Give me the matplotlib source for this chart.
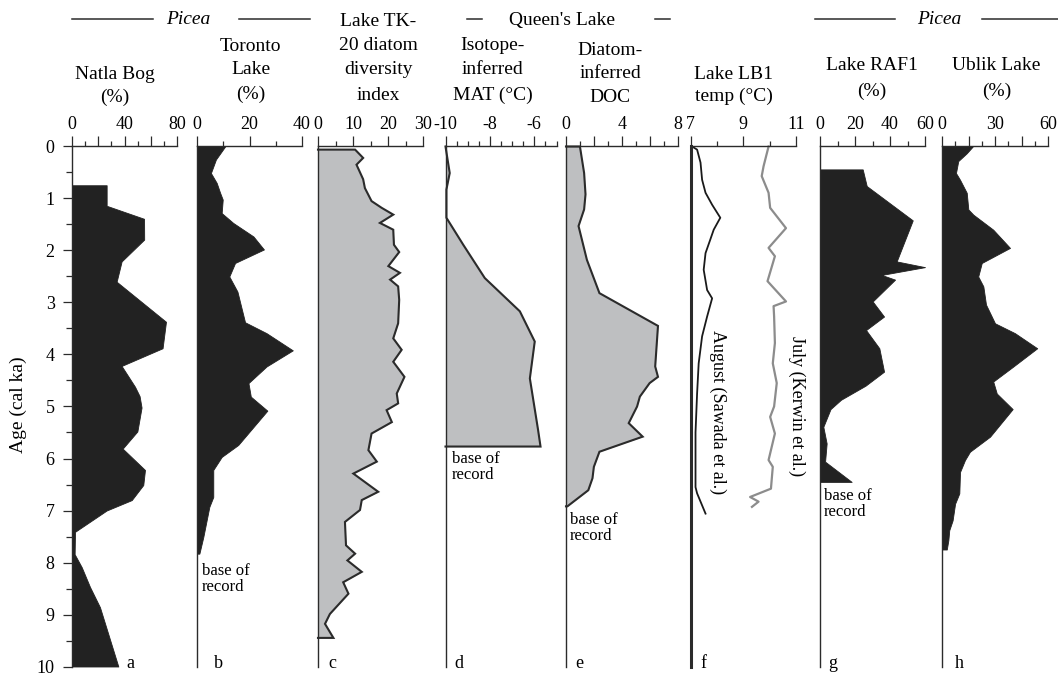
import matplotlib.pyplot as plt
from matplotlib.lines import Line2D
import numpy as np

plt.rcParams["font.family"] = "serif"
plt.rcParams["font.serif"] = ["Liberation Serif", "DejaVu Serif"]
plt.rcParams["axes.unicode_minus"] = False

# ---- records (age in cal ka BP, value on each panel's own scale) ----
natla_age = [0.745, 1.14, 1.39, 1.79, 2.21, 2.60, 3.37, 3.88, 4.22, 4.62, 4.80, 5.02,
             5.48, 5.81, 6.22, 6.51, 6.80, 7.00, 7.41, 7.84, 8.09, 8.47, 8.86, 10.0]
natla_val = [26.4, 26.4, 54.9, 55.0, 37.8, 34.0, 71.6, 69.0, 37.8, 48.0, 51.5, 53.0,
             49.8, 38.6, 55.6, 54.3, 45.5, 26.4, 2.3, 2.0, 7.4, 13.7, 21.3, 35.3]

toronto_age = [0.0, 0.25, 0.51, 0.70, 0.89, 1.02, 1.28, 1.47, 1.73, 1.98, 2.24, 2.50, 2.79,
               3.38, 3.59, 3.92, 4.23, 4.55, 4.81, 5.08, 5.74, 5.97, 6.22, 6.74, 6.93, 7.51, 7.83]
toronto_val = [10.7, 7.2, 5.3, 7.5, 8.8, 9.8, 9.4, 13.8, 21.5, 25.5, 14.5, 12.3, 15.4,
               18.3, 26.5, 36.5, 26.5, 19.6, 20.5, 26.8, 15.7, 9.4, 6.2, 6.2, 4.7, 2.4, 0.9]

tk20_age = [0.06, 0.22, 0.35, 0.63, 0.80, 1.05, 1.18, 1.31, 1.47, 1.60, 1.89, 2.03, 2.30,
            2.43, 2.56, 2.69, 2.95, 3.40, 3.69, 3.91, 4.14, 4.43, 4.75, 4.94, 5.07, 5.30,
            5.52, 5.84, 6.06, 6.29, 6.64, 6.80, 6.99, 7.22, 7.67, 7.83, 7.96, 8.18, 8.38,
            8.60, 8.99, 9.18, 9.45]
tk20_val = [10.6, 12.9, 11.0, 12.9, 13.4, 15.3, 18.2, 21.5, 17.7, 21.5, 21.7, 23.2, 20.1,
            23.4, 20.6, 22.9, 23.2, 22.9, 21.5, 23.9, 21.5, 24.7, 22.5, 22.9, 19.6, 21.1,
            15.3, 14.4, 16.8, 10.1, 17.2, 12.5, 12.0, 7.7, 8.0, 10.6, 8.4, 12.5, 7.2,
            8.7, 3.4, 2.0, 4.4]

mat_age = [0.0, 0.51, 0.83, 1.37, 1.89, 2.53, 3.17, 3.75, 4.46, 5.45, 5.77]
mat_val = [-10.0, -9.81, -9.96, -9.96, -9.2, -8.23, -6.65, -5.98, -6.2, -5.83, -5.72]

doc_age = [0.0, 0.51, 0.92, 1.21, 1.53, 2.18, 2.82, 3.45, 4.23, 4.43, 4.55, 4.81, 5.00,
           5.32, 5.58, 5.87, 6.16, 6.38, 6.61, 6.92]
doc_val = [1.0, 1.3, 1.4, 1.3, 0.9, 1.5, 2.4, 6.6, 6.4, 6.6, 6.0, 5.3, 5.1, 4.5, 5.5,
           2.4, 2.0, 1.9, 1.6, 0.1]

aug_age = [0.0, 0.06, 0.31, 0.64, 0.89, 1.12, 1.37, 1.60, 1.79, 2.05, 2.37, 2.76, 2.92,
           3.27, 3.65, 4.17, 4.75, 5.50, 6.55, 6.67, 7.06]
aug_val = [7.06, 7.25, 7.38, 7.44, 7.57, 7.82, 8.13, 7.88, 7.75, 7.57, 7.50, 7.63, 7.82,
           7.63, 7.44, 7.31, 7.25, 7.19, 7.19, 7.25, 7.57]

jul_age = [0.0, 0.38, 0.57, 0.89, 1.18, 1.57, 1.95, 2.11, 2.59, 2.98, 3.07, 3.27, 3.78,
           4.17, 4.55, 5.00, 5.20, 5.52, 6.03, 6.16, 6.58, 6.74, 6.83, 6.93]
jul_val = [9.96, 9.77, 9.70, 9.96, 10.02, 10.62, 9.96, 10.20, 9.92, 10.62, 10.15, 10.17,
           10.20, 10.12, 10.27, 10.17, 10.02, 10.20, 9.96, 10.12, 10.05, 9.26, 9.58, 9.33]

raf1_age = [0.44, 0.76, 1.42, 2.21, 2.32, 2.47, 2.56, 2.98, 3.27, 3.53, 3.88, 4.33, 4.60,
            4.87, 5.05, 5.39, 5.71, 6.06, 6.45]
raf1_val = [24.4, 26.7, 53.0, 43.8, 60.0, 35.2, 42.9, 30.1, 36.6, 26.3, 33.9, 36.6, 26.0,
            12.0, 6.0, 1.9, 3.8, 2.9, 18.1]

ublik_age = [0.0, 0.13, 0.28, 0.51, 0.64, 0.89, 1.21, 1.31, 1.60, 1.95, 2.24, 2.50, 2.69,
             3.04, 3.40, 3.59, 3.88, 4.23, 4.52, 4.75, 5.05, 5.58, 5.87, 6.03, 6.26, 6.67,
             6.87, 7.19, 7.38, 7.57, 7.75]
ublik_val = [17.4, 14.0, 9.2, 7.9, 10.2, 14.0, 14.9, 17.7, 29.0, 38.5, 22.5, 20.5, 23.4,
             24.9, 30.0, 41.3, 53.9, 40.4, 29.0, 31.0, 40.0, 27.2, 15.8, 13.0, 10.2, 9.8,
             7.4, 6.0, 4.1, 3.6, 2.7]

# ---- layout in pixels ----
W, H = 1058, 679
TOP, BOT = 146.5, 666.5
DARK = "#222222"
GREY = "#bebfc1"
EDGE = "#2b2b2b"
FS = 13
TFS = 14


def fx(x):
    return x / W


def fy(y):
    return 1 - y / H


fig = plt.figure(figsize=(W / 100, H / 100), dpi=100)


def panel(x0, x1, xlim, majors, labels, minors, lw=1.0):
    ax = fig.add_axes([fx(x0), fy(BOT), (x1 - x0) / W, (BOT - TOP) / H])
    ax.set_xlim(*xlim)
    ax.set_ylim(10, 0)
    ax.patch.set_visible(False)
    for s in ("right", "bottom"):
        ax.spines[s].set_visible(False)
    ax.spines["top"].set_linewidth(1.0)
    ax.spines["left"].set_linewidth(lw)
    for s in ("top", "left"):
        ax.spines[s].set_color(EDGE)
    ax.xaxis.tick_top()
    ax.set_xticks(majors, labels=labels)
    ax.set_xticks(minors, minor=True)
    ax.tick_params(axis="x", which="major", length=7.2, width=0.9, pad=2.5,
                   labelsize=FS, color=EDGE)
    ax.tick_params(axis="x", which="minor", length=3.6, width=0.9, color=EDGE)
    ax.set_yticks([])
    return ax


def dark_fill(ax, age, val):
    ax.fill_betweenx(age, 0, val, color=DARK, lw=0.6, edgecolor=DARK, clip_on=False)


def grey_fill(ax, age, val, base):
    ax.fill_betweenx(age, base, val, color=GREY, lw=0, clip_on=False)
    xs = [base] + list(val) + [base]
    ys = [age[0]] + list(age) + [age[-1]]
    ax.plot(xs, ys, color=EDGE, lw=1.5, clip_on=False, solid_joinstyle="miter")


def base_note(x, y):
    fig.text(fx(x), fy(y), "base of", fontsize=12, ha="left", va="baseline")
    fig.text(fx(x), fy(y + 16), "record", fontsize=12, ha="left", va="baseline")


# a: Natla Bog
ax = panel(72, 177, (0, 80), [0, 20, 40, 60, 80], ["0", "", "40", "", "80"],
           [10, 30, 50, 70])
dark_fill(ax, natla_age, natla_val)
ax.set_yticks(range(11))
ax.set_yticks(np.arange(0.5, 10, 1.0), minor=True)
ax.tick_params(axis="y", which="major", length=6.5, width=0.9, pad=6,
               labelsize=FS, color=EDGE)
ax.tick_params(axis="y", which="minor", length=4, width=0.9, color=EDGE)

# b: Toronto Lake
ax = panel(197, 302, (0, 40), [0, 20, 40], ["0", "20", "40"], [10, 30])
dark_fill(ax, toronto_age, toronto_val)
base_note(201.5, 575)

# c: Lake TK-20 diversity
ax = panel(318, 423, (0, 30), [0, 10, 20, 30], ["0", "10", "20", "30"], [5, 15, 25])
grey_fill(ax, tk20_age, tk20_val, 0)

# d: Queen's Lake MAT
ax = panel(445.5, 556.5, (-10, -5), [-10, -8, -6], ["-10", "-8", "-6"],
           [-9.5, -9, -8.5, -7.5, -7, -6.5, -5.5, -5])
grey_fill(ax, mat_age, mat_val, -10)
base_note(451.5, 463)

# e: Queen's Lake DOC
ax = panel(566, 677.5, (0, 8), [0, 2, 4, 6, 8], ["0", "", "4", "", "8"], [1, 3, 5, 7])
grey_fill(ax, doc_age, doc_val, 0)
base_note(570, 524)

# f: Lake LB1 temperatures
ax = panel(690.5, 796, (7, 11), [7, 9, 11], ["7", "9", "11"], [8, 10], lw=2.2)
ax.plot(aug_val, aug_age, color="#1a1a1a", lw=1.3, clip_on=False)
ax.plot(jul_val, jul_age, color="#8c8c8c", lw=1.6, clip_on=False)
ax.text(8.02, 5.1, "August (Sawada et al.)", rotation=-90, ha="center", va="center",
        fontsize=FS)
ax.text(11.04, 5.0, "July (Kerwin et al.)", rotation=-90, ha="center", va="center",
        fontsize=FS)

# g: Lake RAF1
ax = panel(820, 925, (0, 60), [0, 20, 40, 60], ["0", "20", "40", "60"], [10, 30, 50])
dark_fill(ax, raf1_age, raf1_val)
base_note(823.5, 500)

# h: Ublik Lake
ax = panel(942, 1048, (0, 60), [0, 15, 30, 45, 60], ["0", "", "30", "", "60"],
           [7.5, 22.5, 37.5, 52.5])
dark_fill(ax, ublik_age, ublik_val)

# ---- headings ----
def heading(x, baselines, lines, **kw):
    for yb, s in zip(baselines, lines):
        fig.text(fx(x), fy(yb), s, fontsize=TFS, ha="center", va="baseline", **kw)


heading(114.5, [79, 102], ["Natla Bog", "(%)"])
heading(250.5, [51, 74.5, 98.5], ["Toronto", "Lake", "(%)"])
heading(378.5, [25.5, 50.5, 74.5, 99.5], ["Lake TK-", "20 diatom", "diversity", "index"])
heading(492.5, [50.5, 74.5, 99.5], ["Isotope-", "inferred", "MAT (\u00b0C)"])
heading(610, [55, 78.5, 101.5], ["Diatom-", "inferred", "DOC"])
heading(734, [79, 101], ["Lake LB1", "temp (\u00b0C)"])
heading(872, [70.5, 95.5], ["Lake RAF1", "(%)"])
heading(996.5, [70.5, 95.5], ["Ublik Lake", "(%)"])

heading(188.5, [24], ["Picea"], style="italic")
heading(939.5, [23.5], ["Picea"], style="italic")
heading(562, [25], ["Queen's Lake"])

for xa, xb in [(72, 153), (239, 310), (466.5, 481.5), (655, 670), (815, 895), (982, 1058)]:
    fig.add_artist(Line2D([fx(xa), fx(xb)], [fy(19.3), fy(19.3)], color=EDGE, lw=1.1))

for x, s in [(126.5, "a"), (213.5, "b"), (328.5, "c"), (454, "d"), (575, "e"),
             (700.5, "f"), (828.5, "g"), (955, "h")]:
    fig.text(fx(x), fy(668.5), s, fontsize=FS, ha="left", va="baseline")

fig.text(fx(18), fy(405), "Age (cal ka)", rotation=90, ha="center", va="center",
         fontsize=TFS)

fig.savefig("out.png", dpi=100)
